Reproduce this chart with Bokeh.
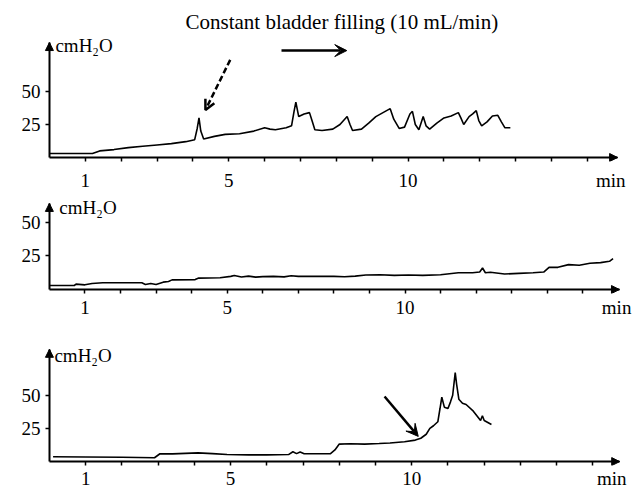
from bokeh.plotting import figure
from bokeh.layouts import column
from bokeh.models import (Arrow, NormalHead, VeeHead, OpenHead, Label, FixedTicker, Range1d,
                          CustomJSTickFormatter, LinearAxis)
from bokeh.embed import file_html
from bokeh.resources import INLINE

# ---- data (time in min, pressure in cmH2O) ----
t_a = [0.0, 0.5, 1.0, 1.2, 1.4, 1.8, 2.2, 2.6, 3.0, 3.4, 3.8, 4.05, 4.12, 4.17, 4.22, 4.3,
       4.6, 4.9, 5.3, 5.7, 6.0, 6.15, 6.3, 6.6, 6.75, 6.82, 6.87, 6.95, 7.1, 7.25, 7.32, 7.4,
       7.6, 7.9, 8.1, 8.3, 8.38, 8.45, 8.7, 8.9, 9.1, 9.3, 9.5, 9.6, 9.75, 9.9, 10.05, 10.12,
       10.2, 10.3, 10.42, 10.5, 10.6, 10.8, 11.0, 11.2, 11.4, 11.47, 11.55, 11.7, 11.8, 11.9,
       11.97, 12.05, 12.2, 12.35, 12.5, 12.6, 12.7, 12.85]
p_a = [3, 3, 3, 3, 5, 6, 7.5, 8.5, 9.5, 10.5, 12, 13.5, 22, 30, 20, 14,
       16, 17.5, 18, 20, 22.5, 21.5, 21, 22.5, 24, 35, 42, 31, 33, 34, 28, 21,
       20.5, 21.5, 25, 31, 25, 20.5, 21.5, 26, 31, 34, 37, 29, 22, 23, 33, 35,
       25, 21, 31, 24, 21.5, 26, 30, 31.5, 34, 30, 25, 31, 33, 35.5,
       28, 24, 27, 31.5, 32, 27, 22.5, 22.5]

t_b = [0.0, 0.7, 0.75, 1.0, 1.2, 1.5, 2.0, 2.6, 2.7, 2.85, 3.0, 3.2, 3.35, 3.45, 4.1, 4.2,
       4.8, 5.1, 5.2, 5.4, 5.6, 5.8, 6.0, 6.3, 6.6, 6.8, 7.0, 7.5, 8.0, 8.3, 8.6, 8.9, 9.3,
       9.7, 10.1, 10.5, 11.0, 11.5, 11.9, 12.1, 12.18, 12.26, 12.4, 12.8, 13.2, 13.6, 13.9,
       14.05, 14.3, 14.6, 14.9, 15.2, 15.5, 15.75, 15.85]
p_b = [3, 3, 4, 3.5, 4.5, 5, 5, 5, 3.8, 4.5, 3.8, 5.5, 6, 7.2, 7.4, 8.5,
       8.8, 9.8, 10.5, 9.3, 10, 9.2, 9.6, 9.8, 9.4, 10.2, 9.8, 9.8, 9.8, 9.5, 10, 10.8, 11,
       10.5, 10.8, 10.5, 11, 12.5, 12.5, 13, 16, 12.5, 12.8, 11.5, 12, 12.5, 13,
       16.5, 16.5, 18.5, 18, 19.5, 20, 21, 23]

t_c = [0.1, 1.0, 2.0, 2.9, 3.05, 3.4, 3.75, 4.1, 4.5, 4.9, 5.5, 6.0, 6.6, 6.72, 6.82, 6.92,
       7.03, 7.3, 7.75, 7.88, 8.0, 8.3, 8.7, 9.1, 9.4, 9.8, 10.1, 10.25, 10.4, 10.5, 10.6,
       10.72, 10.78, 10.83, 10.9, 11.0, 11.07, 11.13, 11.2, 11.24, 11.3, 11.4, 11.5, 11.7,
       11.9, 11.95, 12.0, 12.2]
p_c = [3.7, 3.5, 3.3, 2.9, 5.9, 5.8, 6.2, 6.6, 6.0, 5.3, 5.1, 5.1, 5.3, 7.4, 6.0, 7.2,
       5.9, 5.9, 5.9, 8.8, 13.2, 13.4, 13.2, 13.6, 14, 15, 16.2, 17.6, 20.6, 25, 27,
       30, 40, 48.5, 41, 40, 45, 50, 67, 58, 47, 44, 43, 38,
       31, 34.6, 31, 28]

x_labeled_ticks = [1, 5, 10]
x_all_ticks = list(range(1, 16))
y_ticks = [25, 50]
y_unit = "cmH₂O"
x_unit = "min"
title_text = "Constant bladder filling (10 mL/min)"

FONT = "Liberation Serif"
TICK_FS = "19px"


def panel(t, p, height, bl, br, bt, bb, xr, yr, xb, yb, min_x, standoff, ystandoff,
          unit_dx, unit_dy):
    fig = figure(width=643, height=height, output_backend="svg", toolbar_location=None,
                 x_range=Range1d(*xr), y_range=Range1d(*yr),
                 min_border_left=bl, min_border_right=br, min_border_top=bt,
                 min_border_bottom=bb)
    fig.outline_line_color = None
    fig.xgrid.visible = False
    fig.ygrid.visible = False

    # label-only axes at the frame edges
    xa = fig.xaxis[0]
    xa.ticker = FixedTicker(ticks=x_labeled_ticks + [min_x], minor_ticks=[])
    xa.formatter = CustomJSTickFormatter(
        code="return tick > 14.5 ? '%s' : String(tick);" % x_unit)
    xa.axis_line_color = None
    xa.major_tick_line_color = None
    xa.minor_tick_line_color = None
    xa.major_tick_in = 0
    xa.major_tick_out = 0
    xa.minor_tick_in = 0
    xa.minor_tick_out = 0
    xa.major_label_standoff = standoff
    xa.major_label_text_font = FONT
    xa.major_label_text_font_size = TICK_FS
    xa.major_label_text_color = "black"

    ya = fig.yaxis[0]
    ya.ticker = FixedTicker(ticks=y_ticks, minor_ticks=[])
    ya.axis_line_color = None
    ya.major_tick_line_color = None
    ya.minor_tick_line_color = None
    ya.major_tick_in = 0
    ya.major_tick_out = 0
    ya.major_label_standoff = ystandoff
    ya.major_label_text_font = FONT
    ya.major_label_text_font_size = TICK_FS
    ya.major_label_text_color = "black"
    ya.major_label_orientation = "horizontal"

    # axis lines and ticks, crossing at the origin
    xline = LinearAxis(fixed_location=0, bounds=(0, xb),
                       ticker=FixedTicker(ticks=x_all_ticks, minor_ticks=[]),
                       axis_line_width=2, major_tick_line_width=1.5,
                       major_tick_in=5, major_tick_out=0, minor_tick_in=0, minor_tick_out=0,
                       major_label_text_font_size="0px", major_label_text_alpha=0,
                       major_label_standoff=0)
    fig.add_layout(xline, "above")
    yline = LinearAxis(fixed_location=0, bounds=(0, yb),
                       ticker=FixedTicker(ticks=y_ticks, minor_ticks=[]),
                       axis_line_width=2, major_tick_line_width=1.5,
                       major_tick_in=4, major_tick_out=0, minor_tick_in=0, minor_tick_out=0,
                       major_label_text_font_size="0px", major_label_text_alpha=0,
                       major_label_standoff=0)
    fig.add_layout(yline, "right")

    fig.line(t, p, line_color="black", line_width=1.6)

    # axis arrow heads
    fig.add_layout(Arrow(end=NormalHead(size=8, fill_color="black", line_color="black"),
                         x_start=xb - 0.2, y_start=0, x_end=xb, y_end=0,
                         line_width=2, line_color="black"))
    fig.add_layout(Arrow(end=NormalHead(size=8, fill_color="black", line_color="black"),
                         x_start=0, y_start=yb - 3, x_end=0, y_end=yb,
                         line_width=2, line_color="black"))

    fig.add_layout(Label(x=0, y=yb, x_offset=unit_dx, y_offset=unit_dy, text=y_unit,
                         text_font=FONT, text_font_size="19px", text_color="black",
                         text_baseline="middle", text_align="left"))
    return fig


# page y: top 0-193, middle 193-320, bottom 320-491
p1 = panel(t_a, p_a, 193, 36, 18, 36, 32, (-0.165, 16.06), (-3.03, 91.67), 15.84, 87.1,
           15.65, 8, 3, 6, -3)
p2 = panel(t_b, p_b, 127, 37, 12, 4, 26, (-0.165, 16.2), (-2.94, 68.4), 16.03, 64.0,
           15.95, 3, 3, 10, -4)
p3 = panel(t_c, p_c, 171, 43, 12, 23, 23, (-0.164, 15.9), (-2.94, 88.97), 15.74, 84.6,
           15.52, 2, 3, 5, -6)

p1.title.text = title_text
p1.title.text_font = FONT
p1.title.text_font_size = "21px"
p1.title.text_font_style = "normal"
p1.title.text_color = "black"
p1.title.align = "left"
p1.title.offset = 142
p1.title.standoff = 5

p1.add_layout(Arrow(end=VeeHead(size=12, fill_color="black", line_color="black"),
                    x_start=6.47, y_start=81, x_end=8.29, y_end=81,
                    line_width=2.5, line_color="black"))
p1.add_layout(Arrow(end=OpenHead(size=10, line_width=2.5, line_color="black"),
                    x_start=5.04, y_start=74, x_end=4.35, y_end=36,
                    line_width=2.5, line_color="black", line_dash="6 3"))

p3.add_layout(Arrow(end=VeeHead(size=12, fill_color="black", line_color="black"),
                    x_start=9.25, y_start=49, x_end=10.18, y_end=19,
                    line_width=2.5, line_color="black"))

layout = column(p1, p2, p3, spacing=0)
open("out.html", "w").write(file_html(layout, INLINE))
